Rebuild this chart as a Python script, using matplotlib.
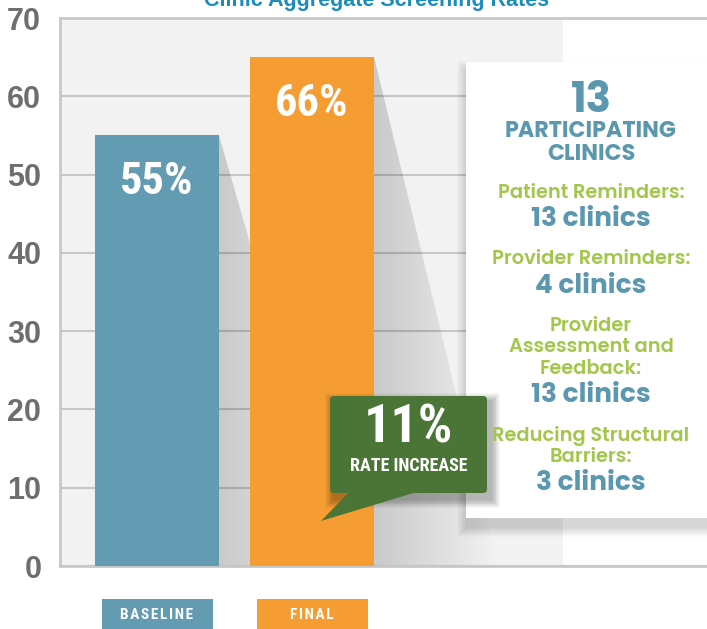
import matplotlib.pyplot as plt
import matplotlib.transforms as mtransforms
from matplotlib.patches import Rectangle, FancyBboxPatch, Polygon
from matplotlib.colors import LinearSegmentedColormap
import numpy as np

W, H = 707, 629

# data
categories = ['BASELINE', 'FINAL']
rates = [55, 65]
rate_labels = ['55%', '66%']
increase_label = '11%'
increase_text = 'RATE INCREASE'
yticks = [0, 10, 20, 30, 40, 50, 60, 70]
clinic_total = '13'
strategies = ['Patient Reminders:', 'Provider Reminders:',
              'Provider\nAssessment and\nFeedback:',
              'Reducing Structural\nBarriers:']
strategy_counts = [13, 4, 13, 3]

blue = '#639bb3'
orange = '#f59d33'
green = '#4a7536'
teal = '#5b98b0'
lime = '#a3c64c'
narrow = ['Roboto Condensed', 'DejaVu Sans']
geo = ['Poppins', 'DejaVu Sans']

fig = plt.figure(figsize=(W / 100, H / 100), dpi=100)
# pixel coords, origin bottom-left
px = mtransforms.Affine2D().scale(1 / W, 1 / H) + fig.transFigure


def fy(y):
    # y measured from the top of the image
    return H - y


ax = fig.add_axes([60 / W, (H - 566) / H, (W - 60) / W, 548 / H])
x = np.arange(len(rates))
bw = 0.8

ax.axvspan(-0.63, 2.62, color='#f2f2f2', zorder=0, lw=0)
ax.bar(x, rates, width=bw, color=[blue, orange], zorder=3)

# drop shadows to the right of each bar
cmap = LinearSegmentedColormap.from_list('sh', [(0, 0, 0, 0.17), (0, 0, 0, 0)])
for xi, r in zip(x, rates):
    xr = xi + bw / 2
    poly = Polygon([(xr, r), (xr + 0.8, 0), (xr, 0)], closed=True,
                   fc='none', ec='none', transform=ax.transData)
    ax.add_patch(poly)
    img = ax.imshow(np.linspace(0, 1, 256)[None, :], cmap=cmap, aspect='auto',
                    extent=[xr, xr + 0.8, 0, r], zorder=1, interpolation='bilinear')
    img.set_clip_path(poly)

for xi, r, lab in zip(x, rates, rate_labels):
    ax.text(xi, r - 6, lab, ha='center', va='center', color='white',
            fontsize=32, fontweight='bold', family=narrow, zorder=4)

ax.set_xlim(-0.626, 3.548)
ax.set_ylim(0, 70)
ax.set_yticks(yticks)
ax.set_xticks([])
ax.yaxis.grid(True, color='#c6c6c6', lw=1.5)
ax.set_axisbelow(True)
ax.tick_params(left=False, labelsize=22, labelcolor='#6e6e6e', pad=10)
for t in ax.get_yticklabels():
    t.set_fontweight('bold')
    t.set_family('Liberation Sans')
for s in ['left', 'bottom', 'top']:
    ax.spines[s].set_color('#c8c8c8')
    ax.spines[s].set_linewidth(2)
ax.spines['right'].set_visible(False)

# title, cut off at the top
fig.text(377, fy(6), 'Clinic Aggregate Screening Rates', transform=px,
         ha='center', va='baseline', fontsize=15.5, fontweight='bold',
         color='#1a8dbb', family='Liberation Sans')

# legend boxes under the bars
leg = mtransforms.blended_transform_factory(ax.transData, px)
for xi, cat, col in zip(x, categories, [blue, orange]):
    fig.add_artist(Rectangle((xi - 0.358, 0), 0.716, 30, transform=leg,
                             fc=col, ec='none'))
    fig.text(xi, fy(615), '\u200a'.join(cat), transform=leg, ha='center',
             va='center', color='white', fontsize=11, fontweight='bold',
             family=narrow)


def soft_shadow(x0, y0, w, h, dx, dy, spread=10, n=10, alpha=0.02, z=4):
    for i in range(n):
        g = spread * (1 - i / n)
        fig.add_artist(Rectangle((x0 + dx - g, y0 + dy - g), w + 2 * g, h + 2 * g,
                                 transform=px, fc='black', ec='none',
                                 alpha=alpha, zorder=z))


# white info box
soft_shadow(466, fy(518), 241, 456, 1, -9, spread=10, alpha=0.017)
fig.add_artist(Rectangle((466, fy(518)), 241, 456, transform=px,
                         fc='white', ec='none', zorder=5))
cx = 591


def box_text(y, s, size, color, weight='bold'):
    fig.text(cx, fy(y), s, transform=px, ha='center', va='baseline',
             fontsize=size, fontweight=weight, color=color, family=geo, zorder=6)


box_text(112, clinic_total, 30, teal)
box_text(137, 'PARTICIPATING', 16, teal)
box_text(160, 'CLINICS', 16, teal)
base = 198
for lab, cnt in zip(strategies, strategy_counts):
    for line in lab.split('\n'):
        box_text(base, line, 14, lime, 'semibold')
        base += 21.5
    base += 28.5 - 21.5
    box_text(base, f'{cnt} clinics', 19, teal)
    base += 38

# green callout
soft_shadow(330, fy(493), 157, 97, 4, -6, spread=9, alpha=0.03, z=6)
fig.add_artist(FancyBboxPatch((330, fy(493)), 157, 97, transform=px,
                              boxstyle='round,pad=0,rounding_size=4',
                              fc=green, ec='none', zorder=7))
fig.add_artist(Polygon([(350, fy(491)), (321, fy(521)), (420, fy(491))],
                       transform=px, fc=green, ec='none', zorder=7))
fig.text(408, fy(428), increase_label, transform=px, ha='center', va='center',
         fontsize=39, fontweight='bold', color='white', family=narrow, zorder=8)
fig.text(409, fy(466), increase_text, transform=px, ha='center', va='center',
         fontsize=13, fontweight='bold', color='white', family=narrow, zorder=8)

fig.savefig('out.png', dpi=100)
